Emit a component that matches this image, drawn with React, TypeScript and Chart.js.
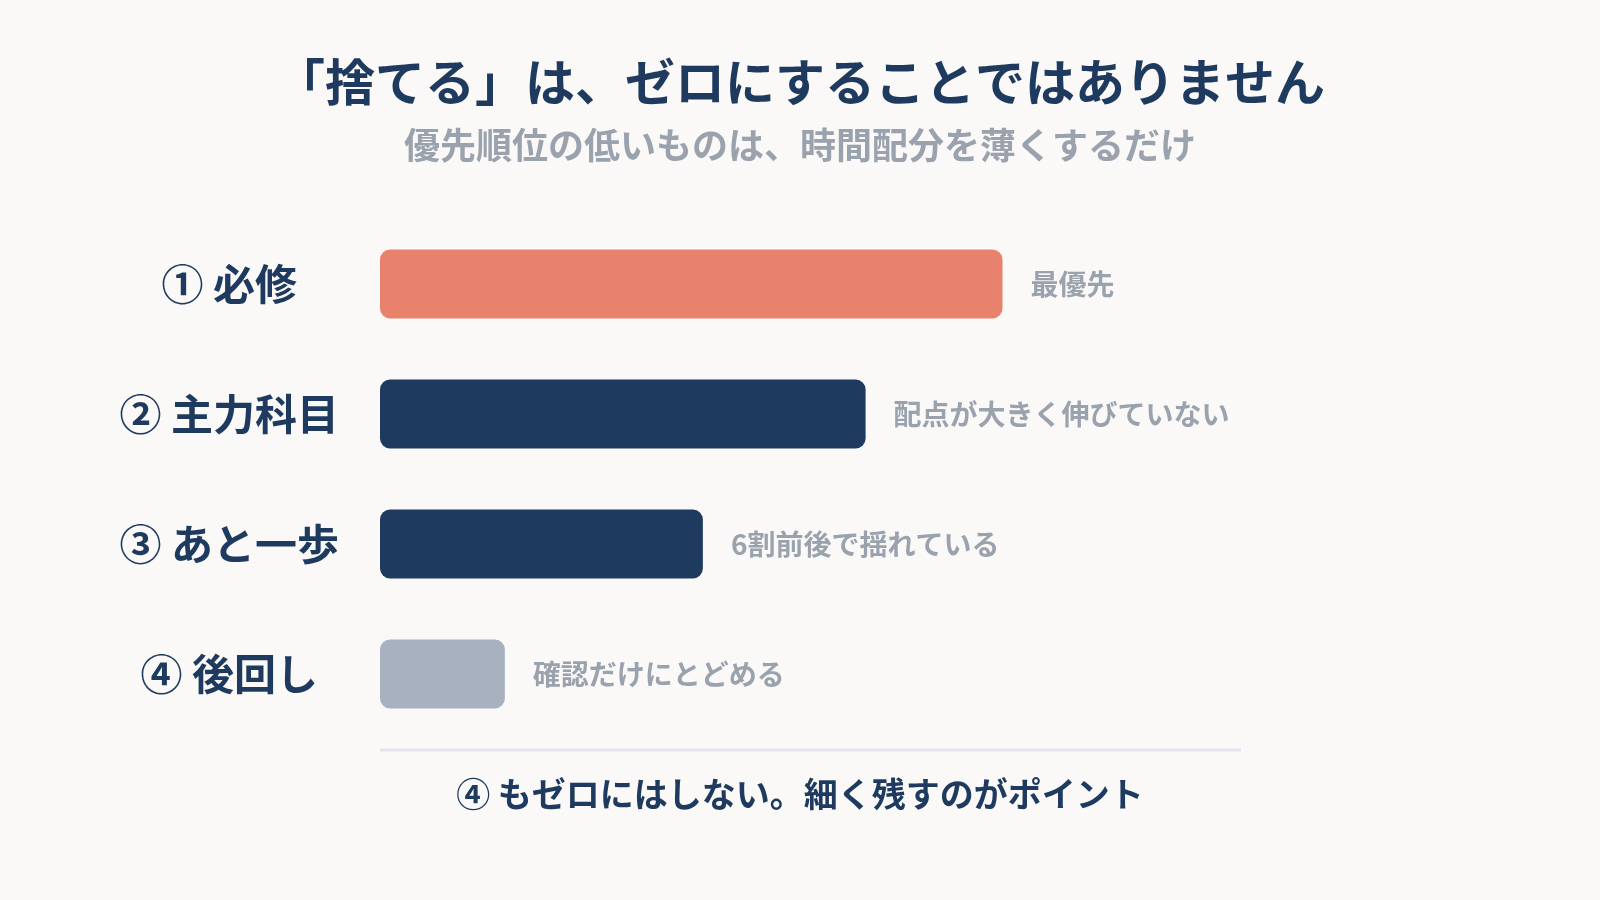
import React, { useEffect, useRef } from "react";
import { Chart, registerables } from "chart.js";

Chart.register(...registerables);

const titleText = "「捨てる」は、ゼロにすることではありません";
const subtitleText = "優先順位の低いものは、時間配分を薄くするだけ";
const categories = ["① 必修", "② 主力科目", "③ あと一歩", "④ 後回し"];
const allocation = [72.3, 56.4, 37.5, 14.5];
const notes = ["最優先", "配点が大きく伸びていない", "6割前後で揺れている", "確認だけにとどめる"];
const barColors = ["#E8826C", "#1F3A5F", "#1F3A5F", "#A8B1C0"];
const footerText = "④ もゼロにはしない。細く残すのがポイント";
const axisMin = 0;
const axisMax = 100;

const FONT = '"Noto Sans CJK JP", "Noto Sans", sans-serif';
const NAVY = "#1F3A5F";
const GREY_TEXT = "#9AA2AE";
const BG = "#FAF9F7";

const decorPlugin = {
  id: "decor",
  beforeDraw(chart: any) {
    const ctx = chart.ctx;
    ctx.save();
    ctx.fillStyle = BG;
    ctx.fillRect(0, 0, chart.width, chart.height);
    ctx.restore();
  },
  afterDatasetsDraw(chart: any) {
    const ctx = chart.ctx;
    const meta = chart.getDatasetMeta(0);
    ctx.save();
    ctx.font = `600 28px ${FONT}`;
    ctx.fillStyle = GREY_TEXT;
    ctx.textAlign = "left";
    ctx.textBaseline = "middle";
    meta.data.forEach((bar: any, i: number) => {
      ctx.fillText(notes[i], bar.x + 28, bar.y);
    });
    const { left, right, bottom } = chart.chartArea;
    ctx.strokeStyle = "#E4E4EE";
    ctx.lineWidth = 3;
    ctx.beginPath();
    ctx.moveTo(left, bottom + 11);
    ctx.lineTo(right, bottom + 11);
    ctx.stroke();
    ctx.font = `bold 34px ${FONT}`;
    ctx.fillStyle = NAVY;
    ctx.textAlign = "center";
    ctx.fillText(footerText, chart.width / 2, bottom + 55);
    ctx.restore();
  },
};

export default function App() {
  const ref = useRef<HTMLCanvasElement | null>(null);
  useEffect(() => {
    if (!ref.current) return;
    const chart = new Chart(ref.current, {
      type: "bar",
      data: {
        labels: categories,
        datasets: [
          {
            data: allocation,
            backgroundColor: barColors,
            borderRadius: 10,
            borderSkipped: false,
            barPercentage: 0.53,
            categoryPercentage: 1,
          },
        ],
      },
      options: {
        indexAxis: "y",
        animation: false,
        responsive: false,
        layout: { padding: { left: 0, right: 0, top: 0, bottom: 161 } },
        plugins: {
          legend: { display: false },
          tooltip: { enabled: false },
          title: {
            display: true,
            text: titleText,
            color: NAVY,
            font: { family: FONT, size: 50, weight: "bold" },
            padding: { top: 52, bottom: 0 },
          },
          subtitle: {
            display: true,
            text: subtitleText,
            color: GREY_TEXT,
            font: { family: FONT, size: 36, weight: "bold" },
            padding: { top: 11.4, bottom: 52.4 },
          },
        },
        scales: {
          x: { display: false, min: axisMin, max: axisMax },
          y: {
            type: "category",
            position: "left",
            grid: { display: false, drawTicks: false },
            border: { display: false },
            ticks: {
              color: NAVY,
              font: { family: FONT, size: 42, weight: "bold" },
              padding: 41,
              crossAlign: "center",
            },
            afterFit(scale: any) {
              scale.width = 380;
            },
          },
          yRight: {
            type: "category",
            position: "right",
            grid: { display: false, drawTicks: false },
            border: { display: false },
            ticks: { display: false },
            afterFit(scale: any) {
              scale.width = 359;
            },
          },
        },
      } as any,
      plugins: [decorPlugin],
    });
    return () => chart.destroy();
  }, []);
  return (
    <div style={{ position: "fixed", left: 0, top: 0, width: 1600, height: 900, background: BG }}>
      <canvas ref={ref} width={1600} height={900} />
    </div>
  );
}
